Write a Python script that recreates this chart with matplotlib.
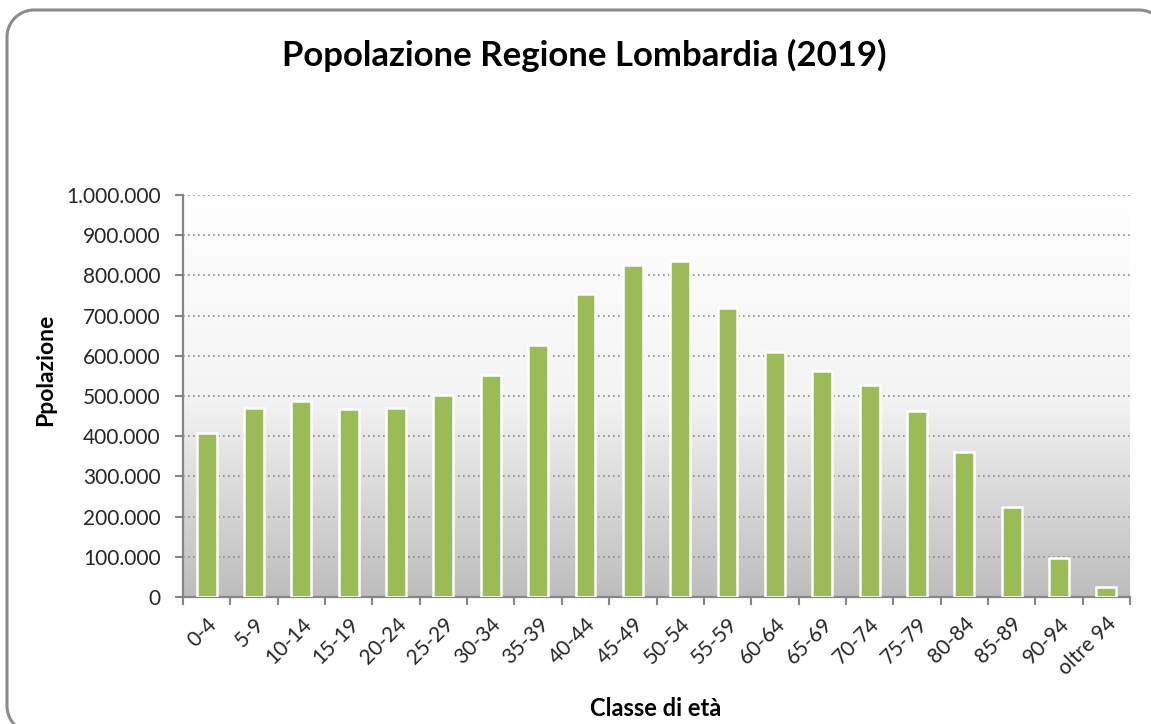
import numpy as np
import matplotlib
matplotlib.use("Agg")
import matplotlib.pyplot as plt
from matplotlib.lines import Line2D
from matplotlib.colors import LinearSegmentedColormap
from matplotlib.ticker import FuncFormatter, FixedLocator

# Popolazione per classe di età, Regione Lombardia 2019
classi = ["0-4", "5-9", "10-14", "15-19", "20-24", "25-29", "30-34", "35-39",
          "40-44", "45-49", "50-54", "55-59", "60-64", "65-69", "70-74",
          "75-79", "80-84", "85-89", "90-94", "oltre 94"]
popolazione = [408000, 470000, 487000, 468000, 470000, 502000, 553000, 626000,
               753000, 827000, 836000, 719000, 610000, 562000, 528000,
               462000, 360000, 223000, 96000, 26000]
y_ticks = list(range(0, 1000001, 100000))

plt.rcParams["font.family"] = ["Lato", "DejaVu Sans"]

W, H = 1151, 724
fig = plt.figure(figsize=(W / 100, H / 100), dpi=100)
ax = fig.add_axes([183 / W, 1 - 597 / H, (1130 - 183) / W, (597 - 195) / H])


def open_outline(left, top, right, bottom, r):
    # bottom-left corner -> left edge -> top-left corner -> top edge -> top-right
    # corner; the right and bottom edges lie outside the image
    yt, yb = H - top, H - bottom
    xs, ys = [], []
    for cx, cy, a0, a1 in [(left + r, yb + r, 270, 180), (left + r, yt - r, 180, 90),
                           (right - r, yt - r, 90, 0)]:
        a = np.radians(np.linspace(a0, a1, 24))
        xs += list(cx + r * np.cos(a))
        ys += list(cy + r * np.sin(a))
    return np.array(xs) / W, np.array(ys) / H


bx, by = open_outline(7, 10, 1166, 733, 27)
fig.add_artist(Line2D(bx, by, transform=fig.transFigure, color="#8c8c8c",
                      linewidth=2.2, solid_joinstyle="round"))

x = np.arange(len(classi))
ax.set_xlim(-0.5, len(classi) - 0.5)
ax.set_ylim(0, 1000000)

# gradient plot area
cmap = LinearSegmentedColormap.from_list("bg", ["#ffffff", "#f4f4f4", "#bdbdbd"])
grad = np.linspace(0, 1, 256).reshape(-1, 1)
ax.imshow(grad, cmap=cmap, aspect="auto", origin="upper",
          extent=(-0.5, len(classi) - 0.5, 0, 1000000), zorder=0)

ax.bar(x, popolazione, width=0.42, color="#9bbb59", edgecolor="white",
       linewidth=1.8, zorder=3)

ax.yaxis.set_major_locator(FixedLocator(y_ticks))
ax.yaxis.set_major_formatter(FuncFormatter(lambda v, p: f"{int(v):,}".replace(",", ".")))
ax.yaxis.grid(True, linestyle=(0, (1, 2)), color="#8a8a8a", linewidth=1.2, zorder=1)
ax.set_axisbelow(True)

ax.set_xticks(x)
ax.set_xticklabels(classi, rotation=45, ha="right", rotation_mode="anchor")
ax.set_xticks(np.arange(-0.5, len(classi)), minor=True)
ax.tick_params(axis="x", which="major", length=0, pad=12, labelsize=15, labelcolor="#262626")
ax.tick_params(axis="x", which="minor", length=6, width=1.5, color="#868686")
ax.tick_params(axis="y", which="major", length=6, width=1.5, color="#868686",
               labelsize=15, labelcolor="#262626", pad=10)

for s in ["top", "right"]:
    ax.spines[s].set_visible(False)
for s in ["left", "bottom"]:
    ax.spines[s].set_color("#868686")
    ax.spines[s].set_linewidth(1.6)

ax.set_ylabel("Ppolazione", fontsize=16.5, fontweight="bold")
ax.yaxis.set_label_coords((56 - 183) / (1130 - 183), (597 - 370) / (597 - 195))
fig.text(656 / W, 1 - 708 / H, "Classe di età", fontsize=17, fontweight="bold",
         ha="center", va="center")
fig.text(584 / W, 1 - 55 / H, "Popolazione Regione Lombardia (2019)",
         fontsize=25, fontweight="bold", ha="center", va="center")

fig.savefig("out.png", dpi=100, facecolor="white")
